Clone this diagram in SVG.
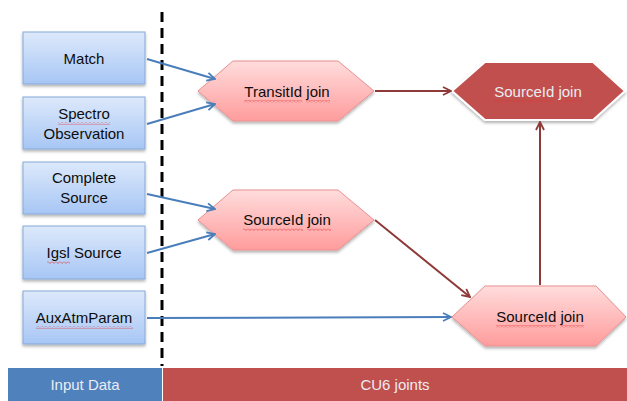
<svg xmlns="http://www.w3.org/2000/svg" width="627" height="401" viewBox="0 0 627 401">
<defs>
<linearGradient id="gBlue" x1="0" y1="0" x2="0" y2="1">
<stop offset="0" stop-color="#dde9fb"/>
<stop offset="1" stop-color="#a7c6f5"/>
</linearGradient>
<linearGradient id="gPink" x1="0" y1="0" x2="0" y2="1">
<stop offset="0" stop-color="#ffdcdc"/>
<stop offset="1" stop-color="#ff9c9c"/>
</linearGradient>
<pattern id="zz" x="0" y="0" width="4" height="3" patternUnits="userSpaceOnUse">
<path d="M0,0.5 L2,2.5 L4,0.5" fill="none" stroke="#e03a3a" stroke-width="0.7"/>
</pattern>
<filter id="sh" x="-10%" y="-10%" width="130%" height="140%">
<feDropShadow dx="0" dy="2" stdDeviation="1.5" flood-color="#000" flood-opacity="0.3"/>
</filter>
<marker id="aBlue" viewBox="0 0 10 10" refX="9" refY="5" markerWidth="10" markerHeight="10" markerUnits="userSpaceOnUse" orient="auto">
<path d="M1,1 L9,5 L1,9" fill="none" stroke="#4a7ebb" stroke-width="1.8"/>
</marker>
<marker id="aRed" viewBox="0 0 10 10" refX="9" refY="5" markerWidth="10" markerHeight="10" markerUnits="userSpaceOnUse" orient="auto">
<path d="M1,1 L9,5 L1,9" fill="none" stroke="#8e3a38" stroke-width="1.8"/>
</marker>
</defs>
<style>
.box{fill:url(#gBlue);stroke:#86a9d8;stroke-width:1;filter:url(#sh)}
.hex{fill:url(#gPink);stroke:#e89090;stroke-width:1;filter:url(#sh)}
.t{font-family:"Liberation Sans",Arial,sans-serif;font-size:15px;fill:#0d0d0d;text-anchor:middle}
.w{font-family:"Liberation Sans",Arial,sans-serif;font-size:15px;fill:#ececf2;text-anchor:middle}
.sq{fill:url(#zz)}
.cb{fill:none;stroke:#4a7ebb;stroke-width:2;marker-end:url(#aBlue)}
.cr{fill:none;stroke:#8e3a38;stroke-width:2;marker-end:url(#aRed)}
</style>
<rect x="0" y="0" width="627" height="401" fill="#ffffff"/>

<line x1="162" y1="12" x2="162" y2="366" stroke="#000" stroke-width="3" stroke-dasharray="10,6"/>

<g id="match"><rect class="box" x="23" y="32" width="122" height="52"/><text class="t" x="84" y="64">Match</text></g>
<g id="spectro"><rect class="box" x="23" y="97" width="122" height="52"/><text class="t" x="84" y="119">Spectro</text><text class="t" x="84" y="139">Observation</text><rect class="sq" x="58" y="122" width="52" height="3"/></g>
<g id="complete"><rect class="box" x="23" y="162" width="122" height="52"/><text class="t" x="84" y="183">Complete</text><text class="t" x="84" y="203">Source</text></g>
<g id="igsl"><rect class="box" x="23" y="226" width="122" height="53"/><text class="t" x="84" y="258">Igsl Source</text><rect class="sq" x="47" y="261" width="23" height="3"/></g>
<g id="auxatm"><rect class="box" x="23" y="291" width="122" height="53"/><text class="t" x="84" y="323">AuxAtmParam</text><rect class="sq" x="36" y="326" width="97" height="3"/></g>

<g id="transit"><polygon class="hex" points="198,91 233,61 338,61 374,91 338,121 233,121"/><text class="t" x="287" y="97">TransitId join</text><rect class="sq" x="244" y="100" width="58" height="3"/><rect class="sq" x="306" y="100" width="24" height="3"/></g>
<g id="source-mid"><polygon class="hex" points="198,220 233,190 338,190 374,220 338,250 233,250"/><text class="t" x="287" y="225">SourceId join</text><rect class="sq" x="243" y="228" width="60" height="3"/><rect class="sq" x="307" y="228" width="24" height="3"/></g>
<g id="source-bot"><polygon class="hex" points="452,317 485,286 596,286 626,317 596,346 485,346"/><text class="t" x="540" y="322">SourceId join</text><rect class="sq" x="496" y="325" width="60" height="3"/><rect class="sq" x="560" y="325" width="24" height="3"/></g>
<g id="source-top"><polygon points="452,91 485,62 593,62 625,91 593,120 485,120" fill="#c0504d" stroke="#ffffff" stroke-width="2" filter="url(#sh)"/><text class="w" x="538" y="97">SourceId join</text><rect class="sq" x="494" y="100" width="60" height="3"/><rect class="sq" x="558" y="100" width="24" height="3"/></g>

<g id="connectors">
<line class="cb" x1="147" y1="59" x2="215" y2="79"/>
<line class="cb" x1="147" y1="124" x2="215" y2="104"/>
<line class="cb" x1="147" y1="194" x2="215" y2="209"/>
<line class="cb" x1="147" y1="253" x2="215" y2="234"/>
<line class="cb" x1="147" y1="318" x2="451" y2="317"/>
<line class="cr" x1="375" y1="91" x2="451" y2="91"/>
<line class="cr" x1="375" y1="220" x2="470" y2="297"/>
<line class="cr" x1="540" y1="285" x2="540" y2="122"/>
</g>

<g id="band-input"><rect x="8" y="368" width="154" height="33" fill="#4f81bd"/><text class="w" x="85" y="390">Input Data</text></g>
<g id="band-cu6"><rect x="163" y="368" width="464" height="33" fill="#c0504d"/><text class="w" x="395" y="390">CU6 joints</text></g>
</svg>
